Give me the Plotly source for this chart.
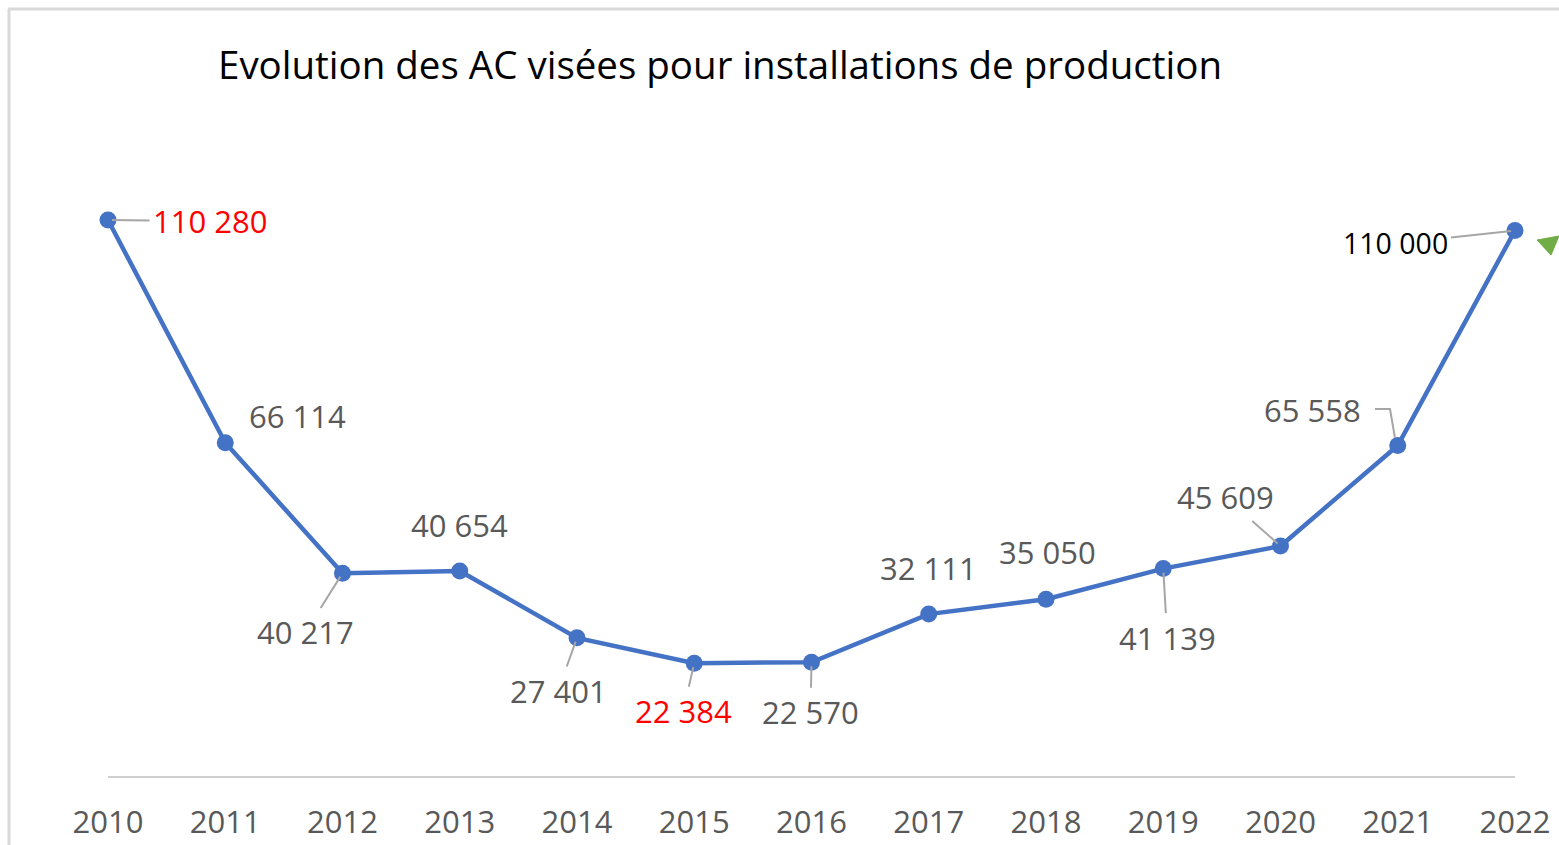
import plotly.graph_objects as go

years = [2010, 2011, 2012, 2013, 2014, 2015, 2016, 2017, 2018, 2019, 2020, 2021, 2022]
values = [110280, 66114, 40217, 40654, 27401, 22384, 22570, 32111, 35050, 41139, 45609, 65558, 108200]
label_texts = ["110 280", "66 114", "40 217", "40 654", "27 401", "22 384", "22 570",
               "32 111", "35 050", "41 139", "45 609", "65 558", "110 000"]
label_colors = ["#FF0000", "#595959", "#595959", "#595959", "#595959", "#FF0000", "#595959",
                "#595959", "#595959", "#595959", "#595959", "#595959", "#000000"]
tick_labels = [str(y) for y in years]

# label offsets (pixels, from point) and whether a leader line is drawn
offsets = [(102, 1), (72, -27), (-37, 59), (0, -46), (-19, 53), (-11, 48), (-1, 50),
           (0, -46), (1, -47), (4, 69), (-55, -49), (-85, -35), (-120, 13)]
leaders = [True, False, True, False, True, True, True, False, False, True, True, False, True]
label_sizes = [31, 31, 31, 31, 31, 31, 31, 31, 31, 31, 31, 31, 28.5]

fig = go.Figure()
fig.add_trace(go.Scatter(
    x=years, y=values, mode="lines+markers",
    line=dict(color="#4472C4", width=4.5),
    marker=dict(color="#4472C4", size=17),
    cliponaxis=False, hoverinfo="skip", showlegend=False,
))

annotations = []
for x, y, t, c, (ax, ay), ld, fs in zip(years, values, label_texts, label_colors, offsets, leaders, label_sizes):
    annotations.append(dict(
        x=x, y=y, xref="x", yref="y", text=t, showarrow=True,
        ax=ax, ay=ay, arrowhead=0, arrowwidth=2,
        arrowcolor="#A6A6A6" if ld else "rgba(0,0,0,0)",
        standoff=4, startstandoff=2,
        font=dict(family="Open Sans", size=fs, color=c),
    ))

# plot area: x 108..1515 px, y 171..776 px
def px(X):
    return (X - 108) / 1407

def py(Y):
    return (776 - Y) / 605

shapes = [
    dict(type="line", xref="paper", yref="paper", x0=px(8), x1=px(1570), y0=py(9), y1=py(9),
         line=dict(color="#D9D9D9", width=3)),
    dict(type="line", xref="paper", yref="paper", x0=px(9), x1=px(9), y0=py(9), y1=py(860),
         line=dict(color="#D9D9D9", width=3)),
    # elbow leader for 2021 label
    dict(type="path", xref="paper", yref="paper",
         path=f"M {px(1375)} {py(409)} L {px(1390)} {py(409)} L {px(1395)} {py(438)}",
         line=dict(color="#A6A6A6", width=2)),
    dict(type="path", xref="paper", yref="paper",
         path=f"M {px(1537)} {py(240)} L {px(1559)} {py(236)} L {px(1551)} {py(255)} Z",
         fillcolor="#70AD47", line=dict(color="#70AD47", width=1)),
]

fig.update_layout(
    width=1559, height=845, autosize=False,
    margin=dict(l=108, r=44, t=171, b=69, autoexpand=False),
    paper_bgcolor="white", plot_bgcolor="white",
    title=dict(text="Evolution des AC visées pour installations de production",
               x=720 / 1559, xanchor="center", xref="container",
               y=1 - 66 / 845, yanchor="middle",
               font=dict(family="Open Sans", size=38.5, color="#000000")),
    xaxis=dict(range=[2010, 2022], tickmode="array", tickvals=years, ticktext=tick_labels,
               showgrid=False, zeroline=False, showline=True, linecolor="#D0D0D0", linewidth=2,
               ticks="", ticklabelstandoff=18, automargin=False,
               tickfont=dict(family="Open Sans", size=31, color="#595959")),
    yaxis=dict(range=[0, 120000], visible=False, showgrid=False, zeroline=False, automargin=False),
    annotations=annotations,
    shapes=shapes,
)

fig.write_html("out.html")
